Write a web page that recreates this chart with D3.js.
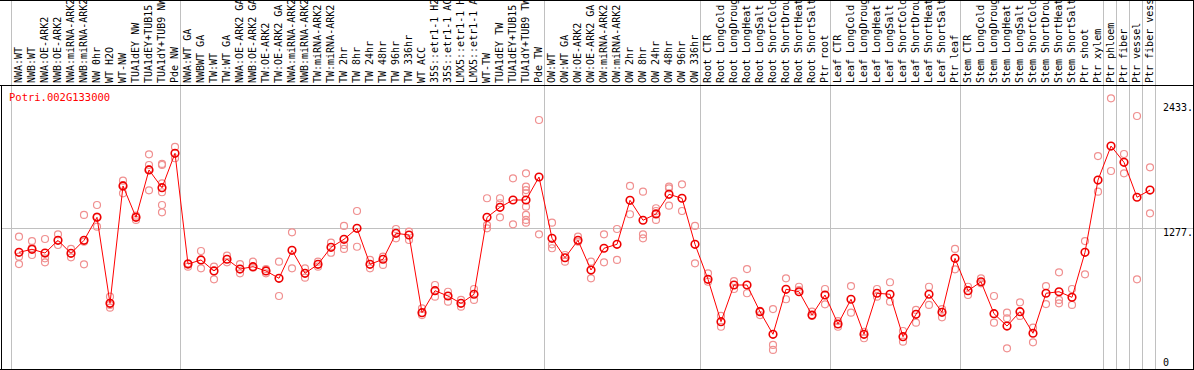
<!DOCTYPE html>
<html><head><meta charset="utf-8">
<script src="https://cdnjs.cloudflare.com/ajax/libs/d3/7.8.5/d3.min.js"></script>
<style>html,body{margin:0;padding:0;background:#fff;}svg{display:block;}</style>
</head><body>
<script>
const title = "Potri.002G133000";
const categories = ["NWA:WT","NWB:WT","NWA:OE-ARK2","NWB:OE-ARK2","NWA:miRNA-ARK2","NWB:miRNA-ARK2","NW 0hr","WT H2O","WT-NW","TUA1dEY NW","TUA1dEY+TUB15","TUA1dY+TUB9 NW","Pde NW",
"NWA:WT GA","NWBWT GA","TW:WT","TW:WT GA","NWA:OE-ARK2 GA","NWB:OE-ARK2 GA","TW:OE-ARK2","TW:OE-ARK2 GA","NWA:miRNA-ARK2","NWB:miRNA-ARK2","TW:miRNA-ARK2","TW:miRNA-ARK2","TW 2hr","TW 8hr","TW 24hr","TW 48hr","TW 96hr","TW 336hr","WT ACC","35S::etr1-1 H2O","35S::etr1-1 ACC","LMX5::etr1-1 H2O","LMX5::etr1-1 ACC","WT-TW","TUA1dEY TW","TUA1dEY+TUB15","TUA1dY+TUB9 TW","Pde TW",
"OW:WT","OW:WT GA","OW:OE-ARK2","OW:OE-ARK2 GA","OW:miRNA-ARK2","OW:miRNA-ARK2","OW 2hr","OW 8hr","OW 24hr","OW 48hr","OW 96hr","OW 336hr",
"Root CTR","Root LongCold","Root LongDrought","Root LongHeat","Root LongSalt","Root ShortCold","Root ShortDrought","Root ShortHeat","Root ShortSalt","Ptr root",
"Leaf CTR","Leaf LongCold","Leaf LongDrought","Leaf LongHeat","Leaf LongSalt","Leaf ShortCold","Leaf ShortDrought","Leaf ShortHeat","Leaf ShortSalt","Ptr leaf",
"Stem CTR","Stem LongCold","Stem LongDrought","Stem LongHeat","Stem LongSalt","Stem ShortCold","Stem ShortDrought","Stem ShortHeat","Stem ShortSalt","Ptr shoot",
"Ptr xylem","Ptr phloem","Ptr fiber","Ptr vessel","Ptr fiber vessel"];
const means = [1038,1068,1031,1156,1028,1156,1382,537,1690,1382,1847,1673,2011,
923,963,855,970,874,897,855,783,1058,832,920,1087,1166,1274,920,970,1225,1208,445,661,609,537,626,1382,1480,1552,1552,1778,
1176,985,1156,864,1078,1117,1549,1353,1415,1608,1569,1117,
773,357,717,717,455,233,675,651,422,619,
334,577,233,636,626,209,429,626,449,979,
661,749,435,314,455,243,636,651,596,1038,
1748,2082,1922,1579,1650];
const replicates = [[1192,995,923],[1149,1012,1081],[1169,979,940],[1215,1110],[1071,989],[1405,1142,920],[1503,1388,1290],[602,521,494],[1742,1699,1618],[1398,1356],[2001,1896,1854,1647],[1906,1896,1716,1628,1503,1431],[2073,1962],
[930,897],[1051,881],[897,773],[1005,940],[923,832],[946,887],[874,832],[946,609],[1235,881],[881,789],[946,897],[1133,1034],[1297,1110,1071],[1444,1093],[963,881],[995,914],[1267,1176],[1241,1159],[488,422],[717,602],[651,553],[570,504],[678,570],[1569,1306,1274],[1569,1520,1382],[1765,1313],[1814,1683,1650,1618,1486,1405,1356,1329],[2338,1215],
[1329,1117,1078],[1012,946],[1192,1142],[946,783],[1215,940],[1267,963],[1690,1412],[1634,1215,1176],[1471,1444,1356],[1683,1667,1496],[1706,1444],[1297,930],
[832,749],[413,307],[756,678],[874,636],[462,422],[481,128,79],[783,577],[700,668],[455,413],[678,527],
[363,307],[707,445],[258,194],[678,602],[744,553],[265,160],[472,347],[700,521],[481,400],[1071,871],
[700,619],[783,734],[609,347],[445,390,95],[547,413],[298,154],[707,530],[842,570,537],[678,521],[1149,822],
[1984,1634],[2551,1837],[2004,1814],[2377,773],[1873,1421]];
const yMax = 2554;
const tickValues = [2433, 1277, 0];
const tickLabels = ["2433.", "1277.", "0"];
const groupEnds = [-1, 12, 40, 52, 62, 72, 83, 84, 85, 86, 87];

const W = 1194, H = 370;
const svg = d3.select("body").append("svg").attr("width", W).attr("height", H);
const font = "'DejaVu Sans Mono', 'Liberation Mono', monospace";

const x = d3.scaleLinear().domain([0, categories.length - 1]).range([19, 1150]);
const y = d3.scaleLinear().domain([0, yMax]).range([358, 98]);

// gray grid
const grid = svg.append("g").attr("stroke", "#c0c0c0").attr("stroke-width", 1);
groupEnds.forEach(k => {
  const gx = Math.round(x(k) + 5) + 0.5;
  grid.append("line").attr("x1", gx).attr("x2", gx).attr("y1", 0).attr("y2", H);
});
grid.append("line").attr("x1", 1).attr("x2", 1193).attr("y1", Math.round(y(1277)) + 0.5).attr("y2", Math.round(y(1277)) + 0.5);

// black frame
const frame = svg.append("g").attr("stroke", "#000").attr("stroke-width", 1).attr("fill", "none");
frame.append("line").attr("x1", 0).attr("x2", W).attr("y1", 0.5).attr("y2", 0.5);
frame.append("line").attr("x1", 0).attr("x2", W).attr("y1", 85.5).attr("y2", 85.5);
frame.append("line").attr("x1", 0).attr("x2", W).attr("y1", 369.5).attr("y2", 369.5);
frame.append("line").attr("x1", 1.5).attr("x2", 1.5).attr("y1", 85).attr("y2", 370);
frame.append("line").attr("x1", 1193.5).attr("x2", 1193.5).attr("y1", 0).attr("y2", 370);

// category labels
svg.append("g").selectAll("text").data(categories).join("text")
  .attr("transform", (d, i) => `translate(${x(i) + 3},83) rotate(-90)`)
  .attr("font-family", font).attr("font-size", 10).attr("fill", "#000")
  .text(d => d);

// y tick labels
svg.append("g").selectAll("text").data(tickValues).join("text")
  .attr("x", 1163)
  .attr("y", (d, i) => y(d) + (i === 0 ? 1 : 7.5))
  .attr("font-family", font).attr("font-size", 10).attr("fill", "#000")
  .text((d, i) => tickLabels[i]);

// title
svg.append("text").attr("x", 9).attr("y", 101)
  .attr("font-family", font).attr("font-size", 10.5).attr("fill", "#ff0000").text(title);

// replicates
const repPts = [];
replicates.forEach((arr, i) => arr.forEach(v => repPts.push({i, v})));
svg.append("g").selectAll("circle").data(repPts).join("circle")
  .attr("cx", d => x(d.i)).attr("cy", d => y(d.v)).attr("r", 3.5)
  .attr("fill", "none").attr("stroke", "#f09090").attr("stroke-width", 1.2);

// mean line
svg.append("path").datum(means)
  .attr("d", d3.line().x((d, i) => x(i)).y(d => y(d)))
  .attr("fill", "none").attr("stroke", "#ff0000").attr("stroke-width", 1);

svg.append("g").selectAll("circle").data(means).join("circle")
  .attr("cx", (d, i) => x(i)).attr("cy", d => y(d)).attr("r", 3.8)
  .attr("fill", "none").attr("stroke", "#ee0000").attr("stroke-width", 1.6);
</script>
</body></html>
